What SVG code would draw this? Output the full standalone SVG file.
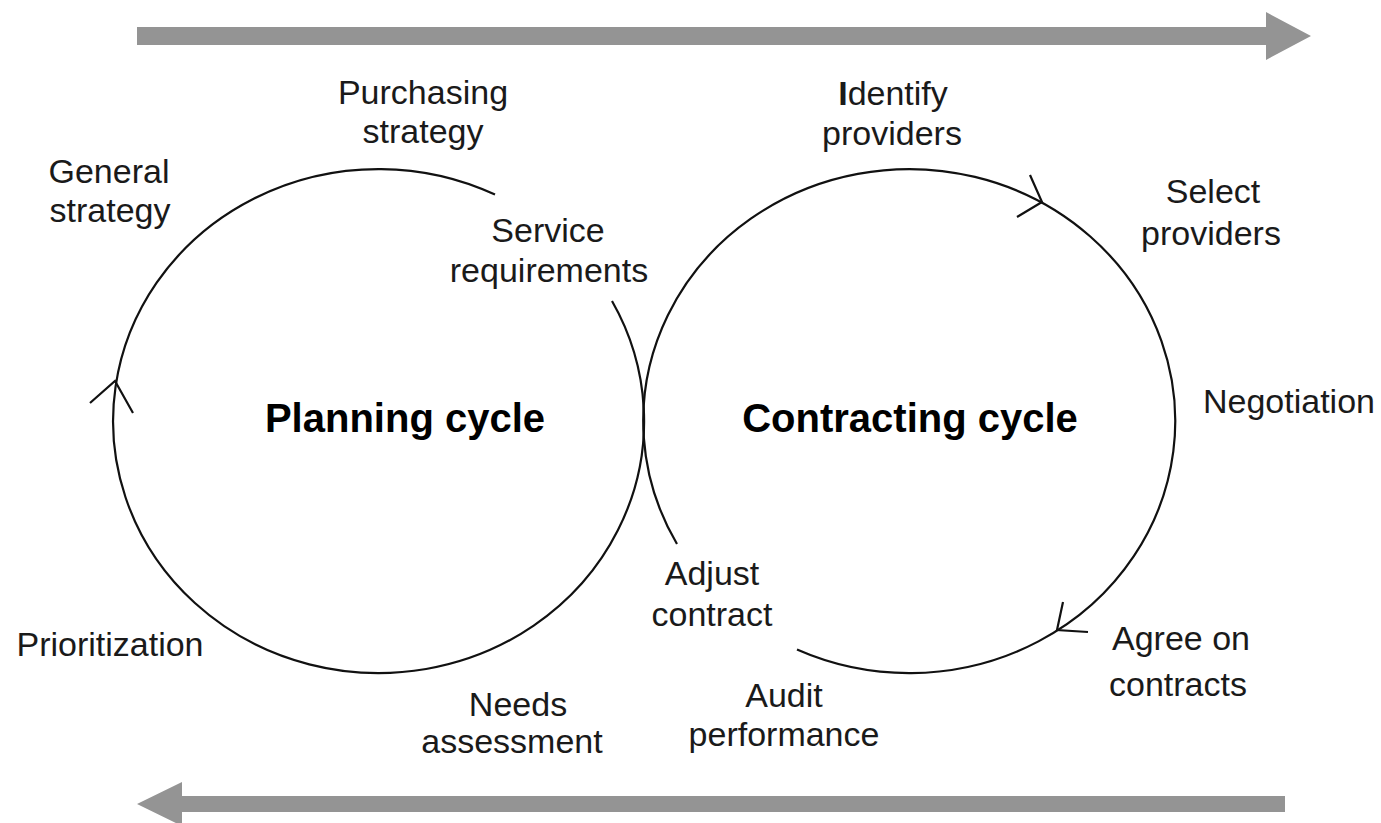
<svg xmlns="http://www.w3.org/2000/svg" width="1381" height="823" viewBox="0 0 1381 823">
<style>
.bg{fill:#ffffff}
.big{fill:#949494;stroke:none}
.cyc{fill:none;stroke:#111;stroke-width:2.2}
.head{fill:none;stroke:#111;stroke-width:2.2;stroke-linejoin:miter}
.lbl{font-family:"Liberation Sans",Arial,sans-serif;font-size:34px;fill:#1a1a1a;text-anchor:middle}
.title{font-family:"Liberation Sans",Arial,sans-serif;font-size:40px;font-weight:bold;fill:#000;text-anchor:middle}
</style>
<rect class="bg" x="0" y="0" width="1381" height="823"/>
<g id="connectors">
  <path id="flow-forward" class="big" d="M137,27 L1266,27 L1266,12 L1311,36 L1266,60 L1266,45 L137,45 Z"/>
  <path id="flow-back" class="big" d="M1285,796 L182,796 L182,782 L137,804 L182,826 L182,812 L1285,812 Z"/>
  <path id="planning-loop" class="cyc" d="M612,301 A265.5,252 0 1 1 495,194.6"/>
  <path id="contracting-loop" class="cyc" d="M677,544 A266,252 0 1 1 797,649.6"/>
  <path class="head" d="M90,403 L115,381 L133,413"/>
  <path class="head" d="M1030,175 L1042,202 L1017,217"/>
  <path class="head" d="M1063,602 L1057,630 L1088,632"/>
</g>
<g id="planning-cycle"><text class="title" x="405" y="432">Planning cycle</text></g>
<g id="contracting-cycle"><text class="title" x="910" y="432">Contracting cycle</text></g>
<g id="general-strategy"><text class="lbl" x="109" y="183">General</text><text class="lbl" x="110" y="222">strategy</text></g>
<g id="purchasing-strategy"><text class="lbl" x="423" y="104">Purchasing</text><text class="lbl" x="423" y="143">strategy</text></g>
<g id="service-requirements"><text class="lbl" x="548" y="242">Service</text><text class="lbl" x="549" y="282">requirements</text></g>
<g id="identify-providers"><text class="lbl" x="893" y="105"><tspan font-weight="bold">I</tspan>dentify</text><text class="lbl" x="892" y="145">providers</text></g>
<g id="select-providers"><text class="lbl" x="1213" y="203">Select</text><text class="lbl" x="1211" y="245">providers</text></g>
<g id="negotiation"><text class="lbl" x="1289" y="413">Negotiation</text></g>
<g id="agree-on-contracts"><text class="lbl" x="1181" y="650">Agree on</text><text class="lbl" x="1178" y="696">contracts</text></g>
<g id="audit-performance"><text class="lbl" x="784" y="707">Audit</text><text class="lbl" x="784" y="746">performance</text></g>
<g id="adjust-contract"><text class="lbl" x="712" y="585">Adjust</text><text class="lbl" x="712" y="626">contract</text></g>
<g id="needs-assessment"><text class="lbl" x="518" y="716">Needs</text><text class="lbl" x="512" y="753">assessment</text></g>
<g id="prioritization"><text class="lbl" x="110" y="656">Prioritization</text></g>
</svg>
